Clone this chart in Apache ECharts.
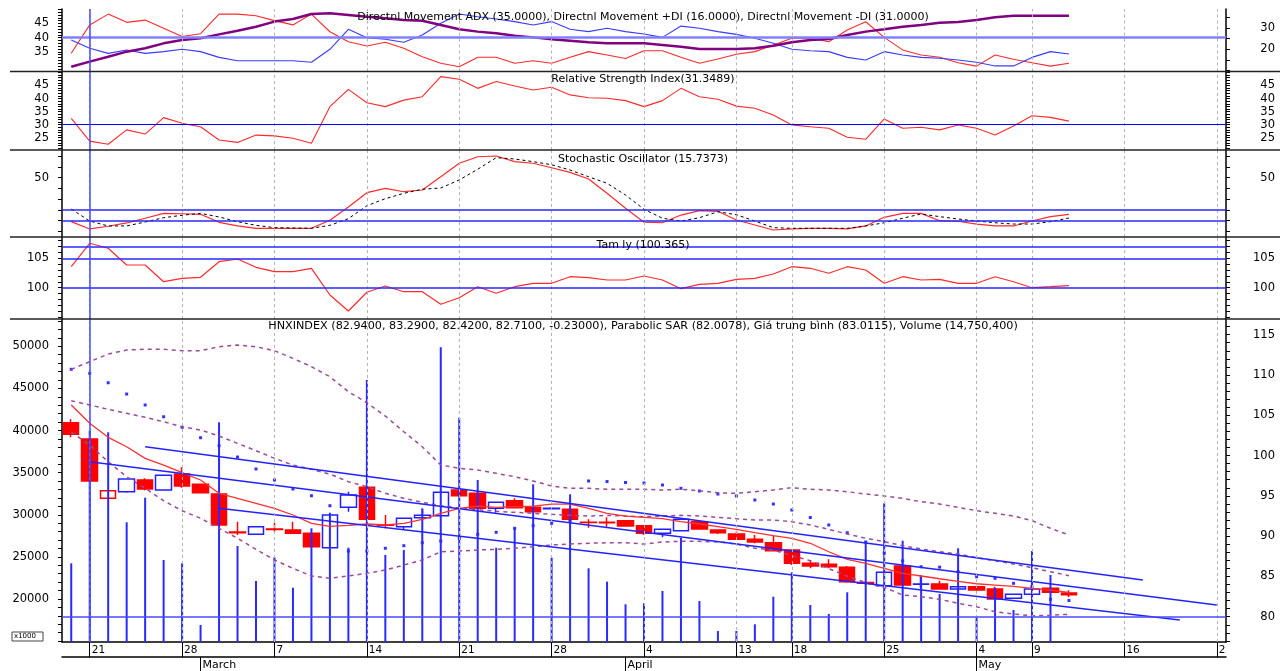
<!DOCTYPE html>
<html>
<head>
<meta charset="utf-8">
<script src="https://cdn.jsdelivr.net/npm/echarts@6/dist/echarts.min.js"></script>
<style>html,body{margin:0;padding:0;background:#fff}#c{width:1286px;height:671px}</style>
</head>
<body>
<div id="c"></div>
<script>
// ---------- categories / tick labels ----------
const dates = ['18/2','21/2','22/2','23/2','24/2','25/2','28/2','1/3','2/3','3/3',
 '4/3','7/3','8/3','9/3','10/3','11/3','14/3','15/3','16/3','17/3',
 '18/3','21/3','22/3','23/3','24/3','25/3','28/3','29/3','30/3','31/3',
 '1/4','4/4','5/4','6/4','7/4','8/4','13/4','14/4','15/4','18/4',
 '19/4','20/4','21/4','22/4','25/4','26/4','27/4','28/4','29/4','4/5',
 '5/5','6/5','9/5','10/5','11/5','12/5','13/5','16/5','17/5','18/5',
 '19/5','20/5','23/5'];
const dayTickIdx = [1,6,11,16,21,26,31,36,39,44,49,52,57,62];
const monthTickIdx = [7,30,49];
const monthNames = ['March','April','May'];
const crossIdx = 1;

// ---------- HNXINDEX OHLC ----------
const open = [104.07,102.05,94.69,95.51,96.96,95.72,97.70,96.43,95.22,90.51,
 90.22,90.88,90.76,90.35,88.56,93.57,96.05,91.40,91.17,92.28,
 92.53,95.72,95.31,93.45,94.39,93.57,93.40,93.33,91.72,91.72,
 91.91,91.29,90.35,90.67,91.79,90.76,90.26,89.60,89.18,88.28,
 86.63,86.50,86.13,84.25,83.85,86.29,84.02,84.06,83.44,83.72,
 83.44,82.28,82.78,83.52,82.94];
const close = [102.63,96.84,95.63,97.08,95.84,97.54,96.22,95.38,91.38,90.43,
 91.17,90.81,90.35,88.68,92.62,95.10,92.08,91.35,92.21,92.58,
 95.43,95.01,93.45,94.19,93.52,93.03,93.45,92.08,91.70,91.66,
 91.25,90.35,90.84,92.08,90.88,90.42,89.60,89.27,88.19,86.63,
 86.29,86.20,84.34,84.15,85.51,83.93,84.06,83.44,83.72,83.31,
 82.20,82.78,83.44,83.03,82.71];
const high = [104.49,102.10,95.63,97.08,97.17,97.54,98.54,96.43,95.30,91.79,
 91.17,91.66,91.79,90.35,92.62,95.51,96.05,92.62,92.21,93.33,
 95.43,95.72,95.31,94.19,94.69,93.57,93.60,93.33,92.08,92.33,
 91.91,91.29,90.84,92.21,91.79,90.76,90.67,90.14,90.01,88.28,
 87.03,87.12,86.30,84.40,85.51,86.82,85.17,84.47,83.72,83.72,
 83.72,82.78,83.93,83.52,83.29];
const low = [102.26,96.80,94.69,95.38,95.70,95.72,96.01,95.38,91.30,90.14,
 90.22,90.55,90.26,88.68,88.56,93.03,92.08,90.97,90.88,92.28,
 92.53,95.01,93.45,92.90,93.52,93.03,93.30,91.79,91.04,91.17,
 91.25,90.14,89.85,90.67,90.88,90.26,89.60,89.11,88.19,86.40,
 86.00,86.00,84.22,84.00,83.85,83.93,83.52,83.44,83.44,83.31,
 82.20,82.28,82.78,83.03,82.42];
// volume in thousands
const volume = [24238,40000,39788,29105,32025,24630,24238,16914,40975,26290,
 22137,24950,21341,28393,30245,26090,45997,25223,25817,30767,
 49879,41524,34126,26090,28463,33615,24903,32428,23644,22057,
 19371,19490,20950,27277,19763,16200,16200,16996,20273,23169,
 19288,18219,20795,26804,31360,26923,22647,20594,26018,17780,
 21341,18694,25698,22850,14750];
const sar = [110.70,110.20,109.03,107.63,106.27,104.81,103.50,102.21,101.22,99.81,
 98.33,96.96,95.84,95.01,93.77,88.15,88.15,88.49,88.81,89.18,
 89.39,89.73,90.22,90.47,90.97,91.29,91.59,91.87,96.84,96.77,
 96.65,96.59,96.34,95.93,95.60,95.22,94.98,94.48,93.98,93.24,
 92.31,91.38,90.42,89.27,87.90,86.94,86.20,86.15,85.58,84.96,
 84.76,84.14,83.72,82.16,82.01];
const ma = [106.27,104.00,102.26,101.09,99.65,98.82,97.87,96.96,95.31,94.69,
 94.07,93.45,92.62,91.59,91.22,91.34,91.50,91.38,91.59,92.08,
 92.83,93.45,93.73,93.57,93.65,93.73,93.98,93.98,93.45,92.83,
 92.49,92.33,92.16,91.79,91.50,91.17,90.84,90.42,90.05,89.73,
 89.11,88.06,87.12,86.63,86.00,85.38,85.05,84.71,84.39,84.09,
 83.93,83.77,83.52,83.31,83.01];
const bbUpper = [110.69,111.64,112.59,113.09,113.18,113.18,113.00,113.00,113.50,113.71,
 113.50,113.00,112.06,111.02,109.78,107.92,106.55,104.90,102.95,101.09,
 98.82,98.41,98.20,97.79,97.37,96.84,96.22,95.93,95.93,95.81,
 95.81,95.81,95.72,95.81,95.63,95.38,95.31,95.51,95.72,96.00,
 95.81,95.72,95.51,95.22,94.98,94.69,94.27,93.98,93.57,93.15,
 92.83,92.49,91.91,90.97,90.14];
const bbMid = [106.80,106.27,105.73,105.24,104.74,104.19,103.57,103.16,102.42,101.51,
 100.60,99.65,98.82,98.29,97.70,96.75,96.13,95.31,94.69,94.19,
 93.77,93.49,93.28,93.08,92.95,92.83,92.70,92.58,92.49,92.56,
 92.49,92.41,92.49,92.58,92.49,92.33,92.16,92.00,92.00,91.79,
 91.38,90.84,90.26,89.73,89.31,88.81,88.40,88.06,87.78,87.32,
 86.95,86.54,86.08,85.58,85.09];
const bbLower = [102.92,101.30,99.23,97.37,95.93,94.39,93.15,92.21,90.97,89.73,
 88.36,87.03,86.00,85.05,84.76,85.05,85.38,85.79,86.41,87.03,
 88.06,88.15,88.28,88.36,88.49,88.68,88.90,89.02,89.11,89.18,
 89.18,89.01,89.27,89.35,89.35,89.28,89.01,88.49,88.28,87.57,
 86.95,85.97,85.01,84.23,83.64,82.69,82.48,82.16,81.66,81.24,
 80.62,80.33,80.12,80.17,80.30];
// trend lines: [startIdx, startValue, endIdx, endValue]
const trendLines = [[1,99.23,62,81.45],[4,101.09,58,84.55],[8,93.45,60,79.59]];
const priceLevels = [80];

// ---------- indicators ----------
const minusDI = [34.5,44.5,48.3,45.4,46.2,43.3,40.4,41.4,48.3,48.3,
 47.7,46.0,44.5,48.3,42.1,38.6,37.1,38.4,36.3,33.3,
 31.0,29.8,33.1,33.1,31.0,31.9,31.0,33.1,35.1,33.9,
 32.7,35.4,35.4,33.1,31.0,32.5,34.2,35.1,37.4,39.8,
 39.8,38.6,42.7,45.6,40.1,35.7,33.9,33.1,31.2,30.0,
 33.9,32.4,31.2,30.0,31.0];
const plusDI = [24.4,20.5,18.1,19.7,18.1,18.9,20.0,18.9,16.2,14.6,
 14.6,14.6,14.6,13.9,20.0,29.4,25.4,24.7,23.3,26.7,
 32.2,36.6,35.3,34.2,33.0,31.4,33.0,29.4,28.3,29.9,
 28.3,27.2,25.6,30.9,29.9,28.3,27.0,25.2,22.8,20.0,
 19.3,18.9,16.2,15.0,18.9,17.3,16.2,15.8,15.0,13.9,
 12.2,12.2,16.2,18.9,17.8];
const adx = [11.8,14.2,16.5,18.9,20.5,22.8,24.4,25.2,27.0,28.7,
 30.6,33.0,34.2,36.6,36.9,36.1,35.3,34.6,33.8,33.4,
 31.4,29.4,28.3,27.5,26.4,25.6,24.7,24.0,23.3,22.8,
 22.8,22.8,22.0,21.2,20.1,20.1,20.1,20.5,21.7,23.3,
 24.4,24.8,26.7,28.3,29.4,30.6,31.4,32.5,32.8,33.8,
 35.0,35.8,35.8,35.8,35.8];
const dmiLevels = [40];
const rsi = [32.4,23.7,22.5,28.0,26.4,32.7,30.5,29.2,24.1,23.2,
 26.0,25.7,24.8,22.9,36.9,43.5,38.4,36.9,39.4,40.7,
 48.4,47.4,43.9,46.5,44.8,43.3,44.3,41.4,40.3,40.1,
 39.2,36.9,39.2,43.9,40.7,39.7,37.1,36.3,33.7,29.9,
 29.2,28.6,25.2,24.4,32.2,28.6,29.0,28.0,29.9,28.6,
 26.0,29.5,33.4,32.8,31.35];
const rsiLevels = [30];
const stochK = [9.0,2.1,4.6,7.7,12.1,16.7,16.3,15.8,8.3,4.9,
 2.7,2.7,2.7,2.7,10.2,22.6,36.0,40.1,36.9,38.5,
 50.9,63.5,69.6,70.3,65.0,63.5,59.3,55.0,48.8,35.4,
 21.4,8.4,7.9,15.1,19.2,18.6,10.5,5.8,1.1,2.1,
 2.7,2.7,2.1,4.9,13.0,16.7,16.7,9.8,9.3,6.7,
 4.9,4.9,9.5,13.6,15.74];
const stochD = [20.7,9.5,4.9,4.9,8.6,12.6,14.9,16.7,13.3,8.9,
 5.5,3.3,3.0,2.7,5.5,11.7,23.8,30.4,35.4,39.2,
 40.4,47.9,57.9,68.7,67.5,65.0,62.1,57.2,50.9,44.8,
 33.8,20.5,12.1,9.5,12.6,18.2,15.4,9.5,3.3,2.7,
 2.7,2.7,2.7,4.9,7.9,12.1,16.1,13.6,11.4,9.5,
 7.9,6.7,6.7,8.9,12.3];
const stochLevels = [20,10];
const tamly = [103.57,107.55,106.70,103.86,103.86,101.02,101.60,101.77,104.42,104.88,
 103.47,102.72,102.72,103.30,98.76,96.04,99.22,100.29,99.32,99.32,
 97.18,98.30,100.17,99.05,100.17,100.75,100.75,101.87,101.70,101.31,
 101.31,101.99,101.31,99.83,100.58,100.75,101.43,101.60,102.33,103.57,
 103.30,102.45,103.57,103.01,100.75,101.87,101.31,101.43,100.75,100.75,
 101.87,101.02,100.00,100.17,100.37];
const tamlyLevels = [106.9,105,100];

const titles = [
 'Directnl Movement ADX (35.0000), Directnl Movement +DI (16.0000), Directnl Movement -DI (31.0000)',
 'Relative Strength Index(31.3489)',
 'Stochastic Oscillator (15.7373)',
 'Tam ly (100.365)',
 'HNXINDEX (82.9400, 83.2900, 82.4200, 82.7100, -0.23000), Parabolic SAR (82.0078), Giá trung bình (83.0115), Volume (14,750,400)'
];

// ---------- styling / layout ----------
const FONT = 'DejaVu Sans';
const RED = '#ff0000';
const L = 62, R = 60;
const panels = [[9,71.5],[71.5,150],[150,237],[237,319],[319,642]];
const grid = panels.map(p => ({left:L, right:R, top:p[0], height:p[1]-p[0]}));

function range(a,b,s){const r=[];for(let v=a;v<=b+1e-9;v+=s)r.push(+v.toFixed(4));return r;}
function yAx(gi, pos, min, max, labels, ticks){
  const right = pos === 'right';
  return {type:'value', gridIndex:gi, position:pos, min:min, max:max,
    axisLine:{show:true, lineStyle:{color:'#000', width:1.5}},
    axisTick:{show:true, length:4, customValues:ticks, lineStyle:{color:'#000'}},
    axisLabel:{show:true, customValues:labels, color:'#000', fontFamily:FONT, fontSize:11.5,
      align:'right', margin: right ? 49 : 13, formatter:(v)=>String(v)},
    splitLine:{show:false}};
}
const yAxis = [
  yAx(0,'left',28.1,50.1,[35,40,45],range(29,50,1)),
  yAx(0,'right',9.58,38.92,[20,30],range(10,35,5)),
  yAx(1,'left',20.29,50.36,[25,30,35,40,45],range(21,50,1)),
  yAx(1,'right',20.29,50.36,[25,30,35,40,45],range(21,50,1)),
  yAx(2,'left',-5.42,75.89,[50],range(0,70,10)),
  yAx(2,'right',-5.42,75.89,[50],range(0,70,10)),
  yAx(3,'left',94.68,108.62,[100,105],range(95,108,1)),
  yAx(3,'right',94.68,108.62,[100,105],range(95,108,1)),
  yAx(4,'left',14896,53238,[20000,25000,30000,35000,40000,45000,50000],range(15000,53000,1000)),
  yAx(4,'right',76.86,116.94,[80,85,90,95,100,105,110,115],range(77,116,1)),
];
const xAxis = [0,1,2,3].map(i => ({type:'category', gridIndex:i, data:dates, boundaryGap:true,
  axisLine:{show:false}, axisTick:{show:false}, axisLabel:{show:false}, splitLine:{show:false}}));
xAxis.push({type:'category', gridIndex:4, data:dates, boundaryGap:true,
  axisLine:{show:true, lineStyle:{color:'#000', width:1.5}},
  axisTick:{show:true, alignWithLabel:true, length:15, interval:(i)=>dayTickIdx.includes(i), lineStyle:{color:'#000'}},
  axisLabel:{show:true, interval:(i)=>dayTickIdx.includes(i), align:'left', margin:3, padding:[0,0,0,2],
    color:'#000', fontFamily:FONT, fontSize:10.5,
    formatter:(v,i)=>{const d=v.split('/')[0]; return i===dates.length-1 ? d.slice(0,1) : d;}},
  splitLine:{show:false}});
xAxis.push({type:'category', gridIndex:4, data:dates, boundaryGap:true, position:'bottom', offset:15,
  axisLine:{show:true, lineStyle:{color:'#000', width:1.5}},
  axisTick:{show:true, alignWithLabel:true, length:14, interval:(i)=>monthTickIdx.includes(i), lineStyle:{color:'#000'}},
  axisLabel:{show:true, interval:(i)=>monthTickIdx.includes(i), align:'left', margin:3, padding:[0,0,0,2],
    color:'#000', fontFamily:FONT, fontSize:11,
    formatter:(v,i)=>monthNames[monthTickIdx.indexOf(i)] || ''},
  splitLine:{show:false}});

function guideLines(levels, levelStyle){
  const d = dayTickIdx.map(i => ({xAxis:dates[i], lineStyle:{color:'#b4b4b4', type:[3,3], width:1}}));
  levels.forEach(v => d.push({yAxis:v, lineStyle:levelStyle}));
  d.push({xAxis:dates[crossIdx], lineStyle:{color:'#4848ff', width:1.5, type:'solid'}});
  return {symbol:['none','none'], silent:true, animation:false, label:{show:false}, emphasis:{disabled:true}, data:d};
}
function line(name, xi, yi, data, color, width, type, extra){
  return Object.assign({name, type:'line', xAxisIndex:xi, yAxisIndex:yi, data, showSymbol:false, symbol:'none',
    lineStyle:{color, width, type:type||'solid'}, itemStyle:{color}, animation:false, silent:true}, extra||{});
}

const candleData = open.map((o,i) => {
  const c = close[i];
  const prev = i > 0 ? close[i-1] : Infinity;
  const col = c < prev ? RED : '#2020ff';
  const hollow = c > o;
  return {value:[o, c, low[i], high[i]],
    itemStyle:{color: hollow ? '#ffffff' : col, color0: col, borderColor: col, borderColor0: col, borderColorDoji: col}};
});

const series = [
  line('-DI',0,0,minusDI,'#ff2a2a',1.1,null,{markLine:guideLines(dmiLevels,{color:'#8080ff',width:2.5,type:'solid'})}),
  line('+DI',0,1,plusDI,'#3a3aff',1.1),
  line('ADX',0,1,adx,'#800080',2.5),
  line('RSI',1,2,rsi,'#ff2a2a',1.1,null,{markLine:guideLines(rsiLevels,{color:'#0000ff',width:1,type:'solid'})}),
  line('%K',2,4,stochK,'#ff2a2a',1.2,null,{markLine:guideLines(stochLevels,{color:'#2828ff',width:1.5,type:'solid'})}),
  line('%D',2,4,stochD,'#000000',1,[3,3]),
  line('Tam ly',3,6,tamly,'#ff2a2a',1.2,null,{markLine:guideLines(tamlyLevels,{color:'#2828ff',width:1.5,type:'solid'})}),
  {name:'HNXINDEX', type:'candlestick', xAxisIndex:4, yAxisIndex:9, data:candleData, barWidth:16,
    itemStyle:{borderWidth:1.5}, animation:false, silent:true,
    markLine:guideLines(priceLevels,{color:'#4a4aff',width:1.5,type:'solid'})},
  line('BB upper',4,9,bbUpper,'#9a4a9a',1.5,[4,4]),
  line('BB mid',4,9,bbMid,'#9a4a9a',1.5,[4,4]),
  line('BB lower',4,9,bbLower,'#9a4a9a',1.5,[4,4]),
  line('MA',4,9,ma,'#ff3030',1.3),
];
trendLines.forEach((t,k) => series.push(line('trend'+k,4,9,[[dates[t[0]],t[1]],[dates[t[2]],t[3]]],'#2323ff',1.5)));
series.push({name:'SAR', type:'scatter', xAxisIndex:4, yAxisIndex:9, data:sar, symbol:'rect', symbolSize:3,
  itemStyle:{color:'#0000ff'}, animation:false, silent:true});
series.push({name:'Volume', type:'bar', xAxisIndex:4, yAxisIndex:8, data:volume, barWidth:2,
  itemStyle:{color:'#2a2aff'}, z:3, animation:false, silent:true, clip:true});

const titleTops = [12, 73.5, 153.5, 240, 320.5];
const option = {
  backgroundColor:'#ffffff',
  animation:false,
  title: titles.map((t,i) => ({text:t, left:'center', top:titleTops[i], padding:0,
    textStyle:{fontFamily:FONT, fontSize:i===4 ? 11.2 : 11, fontWeight:'normal', color:'#000'}})),
  grid, xAxis, yAxis, series,
  graphic: [71.5,150,237,319].map(y => ({type:'line', silent:true, z:100,
      shape:{x1:10,y1:y,x2:1280,y2:y}, style:{stroke:'#222', lineWidth:1.5}}))
    .concat([{type:'rect', silent:true, shape:{x:12,y:632,width:31,height:9}, style:{fill:'#fff', stroke:'#444', lineWidth:1}},
      {type:'text', silent:true, x:14, y:633, style:{text:'x1000', font:'7px "DejaVu Sans"', fill:'#000'}}])
};
echarts.init(document.getElementById('c')).setOption(option);
</script>
</body>
</html>
